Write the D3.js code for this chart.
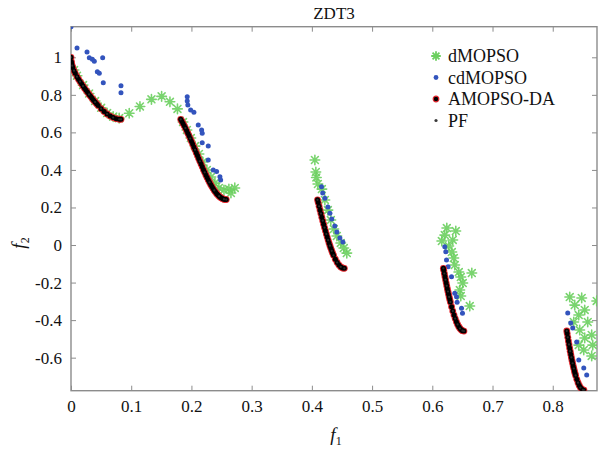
<!DOCTYPE html>
<html>
<head>
<meta charset="utf-8">
<script src="https://cdn.jsdelivr.net/npm/d3@7"></script>
<style>
  html, body { margin: 0; padding: 0; background: #fff; }
  svg { display: block; }
  svg text { font-family: "Liberation Serif", "Times New Roman", serif !important; fill: #111; }
</style>
</head>
<body>
<svg id="chart" width="601" height="449"></svg>
<script>
// ---------------- data ----------------
const chartTitle = "ZDT3";
const seriesNames = ["dMOPSO", "cdMOPSO", "AMOPSO-DA", "PF"];
const xTickValues = [0, 0.1, 0.2, 0.3, 0.4, 0.5, 0.6, 0.7, 0.8];
const xTickLabels = ["0", "0.1", "0.2", "0.3", "0.4", "0.5", "0.6", "0.7", "0.8"];
const yTickValues = [-0.6, -0.4, -0.2, 0, 0.2, 0.4, 0.6, 0.8, 1];
const yTickLabels = ["-0.6", "-0.4", "-0.2", "0", "0.2", "0.4", "0.6", "0.8", "1"];
const xDomain = [0, 0.8735];
const yDomain = [-0.776, 1.163];

// dMOPSO (green stars)
const dmopsoF1 = [0.005, 0.01, 0.02, 0.03, 0.04, 0.05, 0.06, 0.07, 0.08,
  0.0967, 0.1145, 0.1336, 0.1505, 0.1643, 0.1768,
  0.186, 0.1925, 0.199, 0.206, 0.2125, 0.219, 0.2257, 0.2324, 0.239, 0.2456, 0.254, 0.2622, 0.272, 0.2656,
  0.405, 0.4066, 0.4075, 0.41, 0.4166, 0.4216, 0.4266, 0.4315, 0.4365, 0.4415, 0.448, 0.453, 0.458,
  0.6241, 0.639, 0.6158, 0.6274, 0.6324, 0.6357, 0.6373, 0.644, 0.6473, 0.6656, 0.6506, 0.6457, 0.6473, 0.6622, 0.6207, 0.634,
  0.8282, 0.8365, 0.8481, 0.873, 0.8531, 0.8432, 0.8349, 0.8581, 0.8448, 0.8531, 0.8664, 0.8515, 0.8647, 0.8432, 0.8647];
const dmopsoF2 = [0.932, 0.902, 0.852, 0.807, 0.767, 0.731, 0.703, 0.684, 0.676,
  0.702, 0.738, 0.776, 0.792, 0.763, 0.725,
  0.655, 0.613, 0.570, 0.527, 0.485, 0.442, 0.400, 0.362, 0.330, 0.304, 0.293, 0.298, 0.304, 0.277,
  0.453, 0.389, 0.36, 0.325, 0.298, 0.240, 0.186, 0.133, 0.085, 0.048, 0.011, -0.016, -0.043,
  0.0906, 0.0746, 0.0213, -0.0053, -0.0373, -0.0693, -0.1066, -0.144, -0.1705, -0.1492, -0.2024, -0.2398, -0.2717, -0.325, 0.053, 0.027,
  -0.277, -0.320, -0.282, -0.298, -0.346, -0.373, -0.410, -0.410, -0.453, -0.495, -0.533, -0.559, -0.591, -0.533, -0.479];

// cdMOPSO (blue dots)
const cdmopsoF1 = [0, 0.01, 0.0266, 0.0304, 0.0354, 0.0387, 0.0526, 0.0437, 0.047, 0.0536, 0.083, 0.083,
  0.193, 0.193, 0.194, 0.1987, 0.2041, 0.2113, 0.2169, 0.2179, 0.2179, 0.2279, 0.2279, 0.2362, 0.2418, 0.2473, 0.2485,
  0.416, 0.418, 0.4216, 0.4266, 0.430, 0.433, 0.438, 0.4415, 0.4465, 0.4515,
  0.6207, 0.6224, 0.6236, 0.6262, 0.6319, 0.6373, 0.6402, 0.6412, 0.6485, 0.6501,
  0.8249, 0.8299, 0.8332, 0.8398, 0.8432, 0.8515, 0.8564];
const cdmopsoF2 = [1.163, 1.050, 1.028, 0.998, 0.989, 0.979, 0.998, 0.923, 0.915, 0.865, 0.849, 0.811,
  0.790, 0.767, 0.746, 0.719, 0.707, 0.639, 0.613, 0.595, 0.545, 0.527, 0.453, 0.400, 0.391, 0.364, 0.346,
  0.311, 0.277, 0.249, 0.202, 0.169, 0.139, 0.101, 0.069, 0.037, 0.016,
  -0.009, -0.036, -0.080, -0.116, -0.169, -0.257, -0.275, -0.305, -0.337, -0.364,
  -0.362, -0.416, -0.442, -0.517, -0.613, -0.655, -0.693];

// AMOPSO-DA (black dots with red edge)
const amopsoF1 = [0, 0.0005, 0.001, 0.002, 0.003, 0.005, 0.007, 0.01, 0.0125, 0.015, 0.0175, 0.02, 0.0225, 0.025, 0.0275, 0.03, 0.0325, 0.035, 0.0375, 0.04, 0.0425, 0.045, 0.05, 0.055, 0.06, 0.065, 0.07, 0.075, 0.08, 0.083,
  0.1822, 0.184, 0.186, 0.188, 0.19, 0.192, 0.194, 0.196, 0.198, 0.200, 0.202, 0.204, 0.206, 0.208, 0.21, 0.212, 0.214, 0.216, 0.218, 0.220, 0.222, 0.224, 0.226, 0.228, 0.23, 0.232, 0.234, 0.236, 0.238, 0.240, 0.242, 0.244, 0.246, 0.248, 0.25, 0.252, 0.254, 0.256, 0.2578,
  0.4094, 0.4105, 0.412, 0.4135, 0.415, 0.4165, 0.418, 0.4195, 0.421, 0.4225, 0.424, 0.4255, 0.427, 0.4285, 0.43, 0.4315, 0.433, 0.4345, 0.436, 0.439, 0.442, 0.445, 0.448, 0.451, 0.4539,
  0.6184, 0.619, 0.620, 0.621, 0.622, 0.623, 0.624, 0.625, 0.626, 0.627, 0.628, 0.629, 0.630, 0.632, 0.634, 0.636, 0.638, 0.640, 0.642, 0.644, 0.646, 0.648, 0.650, 0.6525,
  0.8233, 0.824, 0.825, 0.826, 0.827, 0.828, 0.829, 0.830, 0.831, 0.832, 0.833, 0.834, 0.835, 0.836, 0.837, 0.838, 0.840, 0.842, 0.844, 0.846, 0.848, 0.850, 0.8518];
const amopsoF2 = [1, 0.9776, 0.9683, 0.9552, 0.9449, 0.9285, 0.9148, 0.8969, 0.8834, 0.8707, 0.8586, 0.8468, 0.8354, 0.8242, 0.8133, 0.8025, 0.7920, 0.7817, 0.7717, 0.7620, 0.7525, 0.7434, 0.7264, 0.7112, 0.6980, 0.6871, 0.6788, 0.6731, 0.6701, 0.6695,
  0.6698, 0.6597, 0.6479, 0.6356, 0.6228, 0.6096, 0.5959, 0.5818, 0.5675, 0.5528, 0.5379, 0.5228, 0.5075, 0.4922, 0.4769, 0.4615, 0.4463, 0.4312, 0.4163, 0.4016, 0.3873, 0.3734, 0.3599, 0.3468, 0.3343, 0.3225, 0.3112, 0.3007, 0.2909, 0.2818, 0.2737, 0.2664, 0.2600, 0.2545, 0.2500, 0.2465, 0.2440, 0.2426, 0.2422,
  0.2409, 0.2263, 0.2065, 0.1868, 0.1674, 0.1483, 0.1295, 0.1111, 0.0931, 0.0756, 0.0586, 0.0422, 0.0263, 0.0110, -0.0036, -0.0175, -0.0307, -0.0432, -0.0548, -0.0756, -0.0930, -0.1066, -0.1165, -0.1223, -0.1242,
  -0.1242, -0.1347, -0.1518, -0.1687, -0.1851, -0.2013, -0.2171, -0.2325, -0.2476, -0.2621, -0.2763, -0.2901, -0.3034, -0.3286, -0.3518, -0.3730, -0.3920, -0.4087, -0.4231, -0.4351, -0.4446, -0.4517, -0.4562, -0.4583,
  -0.4578, -0.4718, -0.4917, -0.5110, -0.5297, -0.5479, -0.5656, -0.5825, -0.5989, -0.6146, -0.6297, -0.6441, -0.6578, -0.6707, -0.6831, -0.6946, -0.7154, -0.7332, -0.7478, -0.7591, -0.7672, -0.7720, -0.7733];

// PF (small dark dots)
const pfF1 = [0, 0.002, 0.005, 0.01, 0.015, 0.02, 0.03, 0.04, 0.05, 0.06, 0.07, 0.08, 0.083,
  0.1822, 0.19, 0.198, 0.206, 0.214, 0.222, 0.23, 0.238, 0.246, 0.254, 0.2578,
  0.4094, 0.412, 0.415, 0.418, 0.421, 0.424, 0.427, 0.43, 0.433, 0.436, 0.442, 0.448, 0.4539,
  0.6184, 0.620, 0.622, 0.624, 0.626, 0.628, 0.630, 0.634, 0.638, 0.642, 0.646, 0.650, 0.6525,
  0.8233, 0.825, 0.827, 0.829, 0.831, 0.833, 0.835, 0.838, 0.842, 0.846, 0.850, 0.8518];
const pfF2 = [1, 0.9552, 0.9285, 0.8969, 0.8707, 0.8468, 0.8025, 0.7620, 0.7264, 0.6980, 0.6788, 0.6701, 0.6695,
  0.6698, 0.6228, 0.5675, 0.5075, 0.4463, 0.3873, 0.3343, 0.2909, 0.2600, 0.2440, 0.2422,
  0.2409, 0.2065, 0.1674, 0.1295, 0.0931, 0.0586, 0.0263, -0.0036, -0.0307, -0.0548, -0.0930, -0.1165, -0.1242,
  -0.1242, -0.1518, -0.1851, -0.2171, -0.2476, -0.2763, -0.3034, -0.3518, -0.3920, -0.4231, -0.4446, -0.4562, -0.4583,
  -0.4578, -0.4917, -0.5297, -0.5656, -0.5989, -0.6297, -0.6578, -0.6946, -0.7332, -0.7591, -0.7720, -0.7733];

// ---------------- drawing ----------------
const plot = { left: 71, right: 597, top: 26.7, bottom: 390.7 };
const svg = d3.select("#chart");
const serif = "'Liberation Serif', 'Times New Roman', serif";

const x = d3.scaleLinear().domain(xDomain).range([plot.left, plot.right]);
const y = d3.scaleLinear().domain(yDomain).range([plot.bottom, plot.top]);

const frameColor = "#8c8c8c";
const green = "#6ccf5f", blue = "#3354bd", red = "#e3262d";

const zip = (a, b) => a.map((v, i) => [v, b[i]]);

svg.append("defs").append("clipPath").attr("id", "clip")
  .append("rect").attr("x", plot.left).attr("y", plot.top)
  .attr("width", plot.right - plot.left).attr("height", plot.bottom - plot.top);

function styleAxis(g, labels) {
  g.attr("font-family", serif);
  g.select(".domain").remove();
  g.selectAll(".tick line").attr("stroke", frameColor).attr("stroke-width", 1);
  g.selectAll(".tick text").style("font-size", "17px").style("font-family", serif).attr("fill", "#111");
  if (!labels) g.selectAll(".tick text").remove();
}
svg.append("g").attr("transform", `translate(0,${plot.bottom})`)
  .call(d3.axisBottom(x).tickValues(xTickValues).tickFormat((d, i) => xTickLabels[i]).tickSize(-5).tickPadding(9))
  .call(g => styleAxis(g, true));
svg.append("g").attr("transform", `translate(0,${plot.top})`)
  .call(d3.axisTop(x).tickValues(xTickValues).tickSize(-5))
  .call(g => styleAxis(g, false));
svg.append("g").attr("transform", `translate(${plot.left},0)`)
  .call(d3.axisLeft(y).tickValues(yTickValues).tickFormat((d, i) => yTickLabels[i]).tickSize(-5).tickPadding(9))
  .call(g => styleAxis(g, true));
svg.append("g").attr("transform", `translate(${plot.right},0)`)
  .call(d3.axisRight(y).tickValues(yTickValues).tickSize(-5))
  .call(g => styleAxis(g, false));

svg.append("rect").attr("x", plot.left).attr("y", plot.top)
  .attr("width", plot.right - plot.left).attr("height", plot.bottom - plot.top)
  .attr("fill", "none").attr("stroke", frameColor).attr("stroke-width", 1.4);

const layer = svg.append("g").attr("clip-path", "url(#clip)");
const starPath = (s) => {
  const a = s * 0.72;
  return `M${-s},0L${s},0M0,${-s}L0,${s}M${-a},${-a}L${a},${a}M${-a},${a}L${a},${-a}`;
};
layer.append("g").selectAll("path").data(zip(dmopsoF1, dmopsoF2)).join("path")
  .attr("transform", d => `translate(${x(d[0])},${y(d[1])})`)
  .attr("d", starPath(4.8)).attr("stroke", green).attr("stroke-width", 1.6)
  .attr("stroke-linecap", "round").attr("fill", "none").attr("opacity", 0.9);
layer.append("g").selectAll("circle").data(zip(cdmopsoF1, cdmopsoF2)).join("circle")
  .attr("cx", d => x(d[0])).attr("cy", d => y(d[1])).attr("r", 2.5).attr("fill", blue);
// AMOPSO-DA: red edges first, then black centres on top (so overlapping markers read as one band)
const amoPts = zip(amopsoF1, amopsoF2);
layer.append("g").selectAll("circle").data(amoPts).join("circle")
  .attr("cx", d => x(d[0])).attr("cy", d => y(d[1])).attr("r", 3.4).attr("fill", red);
layer.append("g").selectAll("circle").data(amoPts).join("circle")
  .attr("cx", d => x(d[0])).attr("cy", d => y(d[1])).attr("r", 2.5).attr("fill", "#000");
layer.append("g").selectAll("circle").data(zip(pfF1, pfF2)).join("circle")
  .attr("cx", d => x(d[0])).attr("cy", d => y(d[1])).attr("r", 1.1).attr("fill", "#2a2a2a");

svg.append("text").attr("x", (plot.left + plot.right) / 2).attr("y", 19)
  .attr("text-anchor", "middle").style("font-size", "17px").style("font-family", serif).text(chartTitle);

const xl = svg.append("text").attr("x", 336).attr("y", 441).attr("text-anchor", "middle")
  .style("font-size", "19px").style("font-family", serif);
xl.append("tspan").style("font-style", "italic").text("f");
xl.append("tspan").attr("dy", 4).style("font-size", "12px").text("1");
const yl = svg.append("text").attr("transform", "translate(25,243) rotate(-90)").attr("text-anchor", "middle")
  .style("font-size", "19px").style("font-family", serif);
yl.append("tspan").style("font-style", "italic").text("f");
yl.append("tspan").attr("dy", 4).style("font-size", "12px").text("2");

const legY = [56, 77.5, 99, 120.5];
const leg = svg.append("g");
seriesNames.forEach((name, i) => {
  const g = leg.append("g").attr("transform", `translate(436,${legY[i]})`);
  if (i === 0) g.append("path").attr("d", starPath(4.8)).attr("stroke", green).attr("stroke-width", 1.8).attr("fill", "none");
  if (i === 1) g.append("circle").attr("r", 2.4).attr("fill", blue);
  if (i === 2) g.append("circle").attr("r", 2.8).attr("fill", "#000").attr("stroke", red).attr("stroke-width", 1.2);
  if (i === 3) g.append("circle").attr("r", 1.6).attr("fill", "#3a3a3a");
  g.append("text").attr("x", 12).attr("y", 6).style("font-size", "18px").style("font-family", serif).text(name);
});
</script>
</body>
</html>
